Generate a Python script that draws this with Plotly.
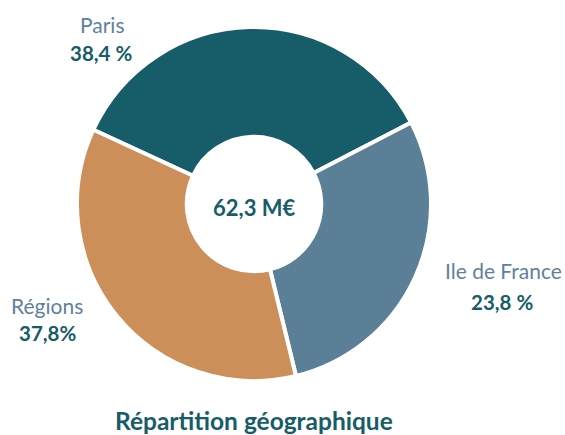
import plotly.graph_objects as go

# Data (slice shares as drawn in the picture, labels as printed)
categories = ["Paris", "Ile de France", "Régions"]
shares = [35.5, 28.8, 35.7]
pct_labels = ["38,4 %", "23,8 %", "37,8%"]
total_label = "62,3 M€"
title_text = "Répartition géographique"

colors = ["#165c69", "#5a7f97", "#cd8f5a"]
dark = "#165c69"
light = "#5f819b"
FONT = "Lato"

W, H = 565, 435
cx, cy, R = 254, 204, 177


def px(x):
    return x / W


def py(y):
    return 1 - y / H


fig = go.Figure(
    go.Pie(
        labels=categories,
        values=shares,
        hole=0.38,
        sort=False,
        direction="clockwise",
        rotation=-65.2,
        marker=dict(colors=colors, line=dict(color="white", width=4)),
        textinfo="none",
        hoverinfo="label+percent",
        showlegend=False,
        domain=dict(x=[px(cx - R), px(cx + R)], y=[py(cy + R), py(cy - R)]),
    )
)

# label positions (pixels)
name_pos = [(102, 24), (503, 270), (47, 305)]
pct_pos = [(101, 53), (502, 302), (47, 333)]

ann = []
for name, pct, (nx, ny), (vx, vy) in zip(categories, pct_labels, name_pos, pct_pos):
    ann.append(dict(x=px(nx), y=py(ny), text=name, showarrow=False,
                    xref="paper", yref="paper", xanchor="center", yanchor="middle",
                    font=dict(family=FONT, size=21, color=light)))
    ann.append(dict(x=px(vx), y=py(vy), text=f"<b>{pct}</b>", showarrow=False,
                    xref="paper", yref="paper", xanchor="center", yanchor="middle",
                    font=dict(family=FONT, size=20.5, color=dark)))

ann.append(dict(x=px(254), y=py(207), text=f"<b>{total_label}</b>", showarrow=False,
                xref="paper", yref="paper", xanchor="center", yanchor="middle",
                font=dict(family=FONT, size=22, color=dark)))
ann.append(dict(x=px(254), y=py(420), text=f"<b>{title_text}</b>", showarrow=False,
                xref="paper", yref="paper", xanchor="center", yanchor="middle",
                font=dict(family=FONT, size=24.5, color=dark)))

fig.update_layout(
    width=W, height=H,
    margin=dict(l=0, r=0, t=0, b=0),
    paper_bgcolor="white", plot_bgcolor="white",
    annotations=ann,
)

fig.write_html("out.html")
